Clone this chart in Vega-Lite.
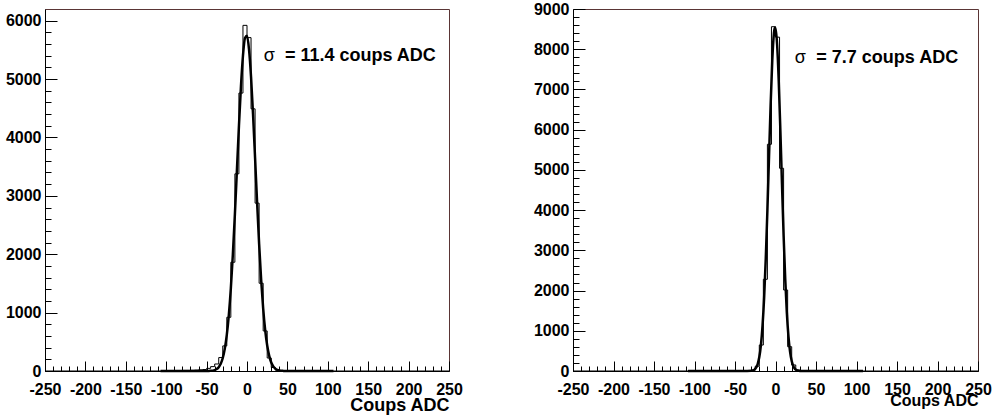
{
  "$schema": "https://vega.github.io/schema/vega-lite/v6.json",
  "padding": {"left": 4, "top": 0, "right": 0, "bottom": 0},
  "background": "white",
  "spacing": 69,
  "datasets": {
    "histL": [
      {"adc": -250, "count": 0},
      {"adc": -100, "count": 5}, {"adc": -95, "count": 5}, {"adc": -90, "count": 8}, {"adc": -85, "count": 8},
      {"adc": -80, "count": 10}, {"adc": -75, "count": 10}, {"adc": -70, "count": 12}, {"adc": -65, "count": 15},
      {"adc": -60, "count": 20}, {"adc": -55, "count": 25}, {"adc": -50, "count": 45}, {"adc": -45, "count": 75},
      {"adc": -40, "count": 120}, {"adc": -35, "count": 230}, {"adc": -30, "count": 430}, {"adc": -25, "count": 920},
      {"adc": -20, "count": 1863}, {"adc": -15, "count": 3377}, {"adc": -10, "count": 4760}, {"adc": -5, "count": 5920},
      {"adc": 0, "count": 5710}, {"adc": 5, "count": 4490}, {"adc": 10, "count": 2875}, {"adc": 15, "count": 1503},
      {"adc": 20, "count": 686}, {"adc": 25, "count": 223}, {"adc": 30, "count": 60}, {"adc": 35, "count": 15},
      {"adc": 40, "count": 5}, {"adc": 45, "count": 2}, {"adc": 50, "count": 0},
      {"adc": 250, "count": 0}
    ],
    "fitL": [
      {"adc": -107, "count": 0}, {"adc": -60, "count": 0}, {"adc": -50, "count": 0}, {"adc": -45, "count": 3},
      {"adc": -40, "count": 16}, {"adc": -37.5, "count": 33}, {"adc": -35, "count": 66}, {"adc": -32.5, "count": 124},
      {"adc": -30, "count": 222}, {"adc": -27.5, "count": 379}, {"adc": -25, "count": 617}, {"adc": -22.5, "count": 957},
      {"adc": -20, "count": 1415}, {"adc": -17.5, "count": 1995}, {"adc": -15, "count": 2681}, {"adc": -12.5, "count": 3432},
      {"adc": -10, "count": 4189}, {"adc": -7.5, "count": 4871}, {"adc": -5, "count": 5399}, {"adc": -2.5, "count": 5704},
      {"adc": 0, "count": 5742}, {"adc": 2.5, "count": 5509}, {"adc": 5, "count": 5038}, {"adc": 7.5, "count": 4391},
      {"adc": 10, "count": 3647}, {"adc": 12.5, "count": 2887}, {"adc": 15, "count": 2178}, {"adc": 17.5, "count": 1566},
      {"adc": 20, "count": 1073}, {"adc": 22.5, "count": 700}, {"adc": 25, "count": 436}, {"adc": 27.5, "count": 259},
      {"adc": 30, "count": 146}, {"adc": 32.5, "count": 79}, {"adc": 35, "count": 40}, {"adc": 37.5, "count": 20},
      {"adc": 40, "count": 9}, {"adc": 45, "count": 2}, {"adc": 50, "count": 0}, {"adc": 60, "count": 0},
      {"adc": 107, "count": 0}
    ],
    "histR": [
      {"adc": -250, "count": 0},
      {"adc": -45, "count": 2}, {"adc": -40, "count": 3}, {"adc": -35, "count": 5}, {"adc": -30, "count": 20},
      {"adc": -25, "count": 120}, {"adc": -20, "count": 646}, {"adc": -15, "count": 2280}, {"adc": -10, "count": 5637},
      {"adc": -5, "count": 8560}, {"adc": 0, "count": 8300}, {"adc": 5, "count": 5040}, {"adc": 10, "count": 2014},
      {"adc": 15, "count": 604}, {"adc": 20, "count": 150}, {"adc": 25, "count": 25}, {"adc": 30, "count": 5},
      {"adc": 35, "count": 0},
      {"adc": 250, "count": 0}
    ],
    "fitR": [
      {"adc": -108, "count": 0}, {"adc": -40, "count": 0}, {"adc": -30, "count": 6}, {"adc": -28, "count": 15},
      {"adc": -26, "count": 35}, {"adc": -24, "count": 81}, {"adc": -22, "count": 173}, {"adc": -20, "count": 346},
      {"adc": -18, "count": 646}, {"adc": -16, "count": 1128}, {"adc": -14, "count": 1838}, {"adc": -12, "count": 2803},
      {"adc": -10, "count": 3995}, {"adc": -8, "count": 5321}, {"adc": -6, "count": 6625}, {"adc": -4, "count": 7711},
      {"adc": -2, "count": 8389}, {"adc": -1, "count": 8532}, {"adc": 0, "count": 8532}, {"adc": 2, "count": 8111},
      {"adc": 4, "count": 7208}, {"adc": 6, "count": 5987}, {"adc": 8, "count": 4649}, {"adc": 10, "count": 3374},
      {"adc": 12, "count": 2290}, {"adc": 14, "count": 1452}, {"adc": 16, "count": 861}, {"adc": 18, "count": 477},
      {"adc": 20, "count": 247}, {"adc": 22, "count": 120}, {"adc": 24, "count": 54}, {"adc": 26, "count": 23},
      {"adc": 28, "count": 9}, {"adc": 30, "count": 3}, {"adc": 40, "count": 0}, {"adc": 108, "count": 0}
    ],
    "one": [{"k": 1}]
  },
  "hconcat": [
    {
      "width": 404,
      "height": 362,
      "resolve": {"axis": {"x": "independent", "y": "independent"}},
      "layer": [
        {
          "data": {"name": "histL"},
          "mark": {"type": "line", "interpolate": "step-after", "color": "black", "strokeWidth": 1},
          "encoding": {
            "x": {"field": "adc", "type": "quantitative", "scale": {"domain": [-250, 250], "nice": false, "zero": false},
              "axis": {"orient": "bottom", "values": [-250, -200, -150, -100, -50, 0, 50, 100, 150, 200, 250], "labelExpr": "'' + datum.value", "ticks": false, "labelPadding": 10, "labelFlush": false, "labelOverlap": false, "title": "Coups ADC", "titleAnchor": "end", "titleAlign": "right", "titlePadding": -1, "titleFontSize": 18}},
            "y": {"field": "count", "type": "quantitative", "scale": {"domain": [0, 6200], "nice": false, "zero": true},
              "axis": {"orient": "left", "values": [0, 1000, 2000, 3000, 4000, 5000, 6000], "labelExpr": "'' + datum.value", "ticks": false, "labelPadding": 4, "title": null}}
          }
        },
        {
          "data": {"name": "fitL"},
          "mark": {"type": "line", "interpolate": "monotone", "color": "black", "strokeWidth": 2.5},
          "encoding": {
            "x": {"field": "adc", "type": "quantitative", "scale": {"domain": [-250, 250], "nice": false, "zero": false},
              "axis": {"orient": "bottom", "values": [-250, -200, -150, -100, -50, 0, 50, 100, 150, 200, 250], "tickSize": -10, "labels": false, "domain": false, "title": null}},
            "y": {"field": "count", "type": "quantitative", "scale": {"domain": [0, 6200], "nice": false, "zero": true},
              "axis": {"orient": "left", "values": [0, 1000, 2000, 3000, 4000, 5000, 6000], "tickSize": -12, "labels": false, "domain": false, "title": null}}
          }
        },
        {
          "data": {"name": "one"},
          "mark": {"type": "text", "text": "σ", "align": "left", "baseline": "alphabetic", "font": "Liberation Sans", "fontSize": 18, "color": "black"},
          "encoding": {
            "x": {"datum": 20.7, "type": "quantitative", "scale": {"domain": [-250, 250], "nice": false, "zero": false},
              "axis": {"orient": "bottom", "values": [-240, -230, -220, -210, -190, -180, -170, -160, -140, -130, -120, -110, -90, -80, -70, -60, -40, -30, -20, -10, 10, 20, 30, 40, 60, 70, 80, 90, 110, 120, 130, 140, 160, 170, 180, 190, 210, 220, 230, 240], "tickSize": -5, "labels": false, "domain": false, "title": null}},
            "y": {"datum": 5310, "type": "quantitative", "scale": {"domain": [0, 6200], "nice": false, "zero": true},
              "axis": {"orient": "left", "values": [200, 400, 600, 800, 1200, 1400, 1600, 1800, 2200, 2400, 2600, 2800, 3200, 3400, 3600, 3800, 4200, 4400, 4600, 4800, 5200, 5400, 5600, 5800], "tickSize": -6, "labels": false, "domain": false, "title": null}}
          }
        },
        {
          "data": {"name": "one"},
          "mark": {"type": "text", "text": "= 11.4 coups ADC", "align": "left", "baseline": "alphabetic", "font": "Liberation Sans", "fontWeight": "bold", "fontSize": 18, "color": "black"},
          "encoding": {
            "x": {"datum": 47, "type": "quantitative", "scale": {"domain": [-250, 250], "nice": false, "zero": false}, "axis": null},
            "y": {"datum": 5310, "type": "quantitative", "scale": {"domain": [0, 6200], "nice": false, "zero": true}, "axis": null}
          }
        }
      ]
    },
    {
      "width": 405,
      "height": 362,
      "resolve": {"axis": {"x": "independent", "y": "independent"}},
      "layer": [
        {
          "data": {"name": "histR"},
          "mark": {"type": "line", "interpolate": "step-after", "color": "black", "strokeWidth": 1},
          "encoding": {
            "x": {"field": "adc", "type": "quantitative", "scale": {"domain": [-250, 250], "nice": false, "zero": false},
              "axis": {"orient": "bottom", "values": [-250, -200, -150, -100, -50, 0, 50, 100, 150, 200, 250], "labelExpr": "'' + datum.value", "ticks": false, "labelPadding": 10, "labelFlush": false, "labelOverlap": false, "title": "Coups ADC", "titleAnchor": "end", "titleAlign": "right", "titlePadding": -5, "titleFontSize": 16}},
            "y": {"field": "count", "type": "quantitative", "scale": {"domain": [0, 9000], "nice": false, "zero": true},
              "axis": {"orient": "left", "values": [0, 1000, 2000, 3000, 4000, 5000, 6000, 7000, 8000, 9000], "labelExpr": "'' + datum.value", "ticks": false, "labelPadding": 4, "title": null}}
          }
        },
        {
          "data": {"name": "fitR"},
          "mark": {"type": "line", "interpolate": "monotone", "color": "black", "strokeWidth": 2.5},
          "encoding": {
            "x": {"field": "adc", "type": "quantitative", "scale": {"domain": [-250, 250], "nice": false, "zero": false},
              "axis": {"orient": "bottom", "values": [-250, -200, -150, -100, -50, 0, 50, 100, 150, 200, 250], "tickSize": -10, "labels": false, "domain": false, "title": null}},
            "y": {"field": "count", "type": "quantitative", "scale": {"domain": [0, 9000], "nice": false, "zero": true},
              "axis": {"orient": "left", "values": [0, 1000, 2000, 3000, 4000, 5000, 6000, 7000, 8000, 9000], "tickSize": -12, "labels": false, "domain": false, "title": null}}
          }
        },
        {
          "data": {"name": "one"},
          "mark": {"type": "text", "text": "σ", "align": "left", "baseline": "alphabetic", "font": "Liberation Sans", "fontSize": 18, "color": "black"},
          "encoding": {
            "x": {"datum": 23.7, "type": "quantitative", "scale": {"domain": [-250, 250], "nice": false, "zero": false},
              "axis": {"orient": "bottom", "values": [-240, -230, -220, -210, -190, -180, -170, -160, -140, -130, -120, -110, -90, -80, -70, -60, -40, -30, -20, -10, 10, 20, 30, 40, 60, 70, 80, 90, 110, 120, 130, 140, 160, 170, 180, 190, 210, 220, 230, 240], "tickSize": -5, "labels": false, "domain": false, "title": null}},
            "y": {"datum": 7646, "type": "quantitative", "scale": {"domain": [0, 9000], "nice": false, "zero": true},
              "axis": {"orient": "left", "values": [200, 400, 600, 800, 1200, 1400, 1600, 1800, 2200, 2400, 2600, 2800, 3200, 3400, 3600, 3800, 4200, 4400, 4600, 4800, 5200, 5400, 5600, 5800, 6200, 6400, 6600, 6800, 7200, 7400, 7600, 7800, 8200, 8400, 8600, 8800], "tickSize": -6, "labels": false, "domain": false, "title": null}}
          }
        },
        {
          "data": {"name": "one"},
          "mark": {"type": "text", "text": "= 7.7 coups ADC", "align": "left", "baseline": "alphabetic", "font": "Liberation Sans", "fontWeight": "bold", "fontSize": 18, "color": "black"},
          "encoding": {
            "x": {"datum": 50.4, "type": "quantitative", "scale": {"domain": [-250, 250], "nice": false, "zero": false}, "axis": null},
            "y": {"datum": 7646, "type": "quantitative", "scale": {"domain": [0, 9000], "nice": false, "zero": true}, "axis": null}
          }
        }
      ]
    }
  ],
  "config": {
    "view": {"stroke": "#5a3535", "strokeWidth": 1},
    "axis": {
      "grid": false,
      "labelFont": "Liberation Sans",
      "labelFontWeight": "bold",
      "labelFontSize": 16,
      "labelColor": "black",
      "titleFont": "Liberation Sans",
      "titleFontWeight": "bold",
      "titleColor": "black",
      "domainColor": "black",
      "domainWidth": 1,
      "tickColor": "black",
      "tickWidth": 1
    }
  }
}
